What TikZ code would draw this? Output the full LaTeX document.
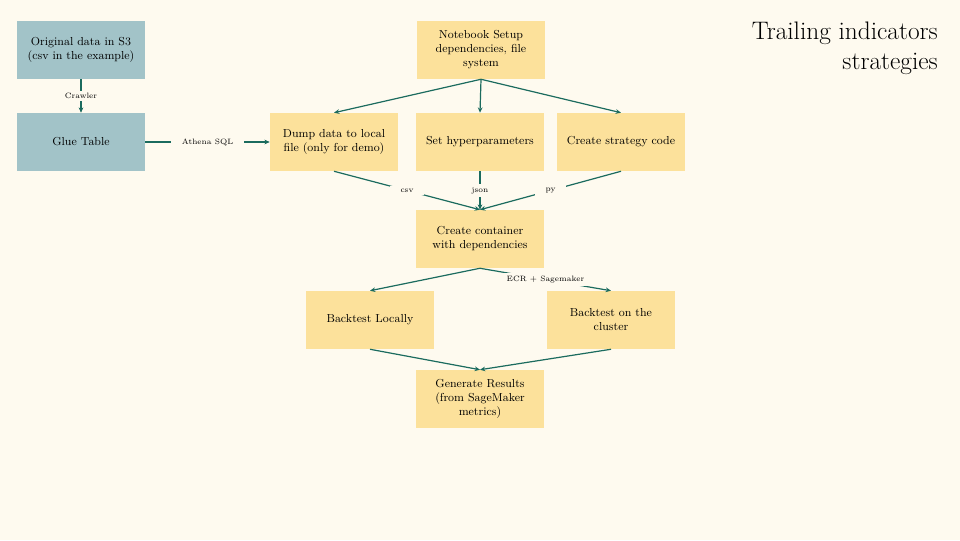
\documentclass[tikz,border=0pt]{standalone}
\usetikzlibrary{arrows.meta}
\definecolor{paper}{HTML}{FEFAEF}
\definecolor{awsblue}{HTML}{A2C3C8}
\definecolor{nbyellow}{HTML}{FCE19B}
\definecolor{flowteal}{HTML}{1B6B5E}
\tikzset{
  box/.style={minimum width=96pt, minimum height=43.5pt, align=center,
    inner sep=0pt, font=\fontsize{8.7}{10.5}\selectfont},
  awsbox/.style={box, fill=awsblue},
  nbbox/.style={box, fill=nbyellow},
  flow/.style={draw=flowteal, line width=0.9pt, -{Stealth[length=4pt,width=3.5pt]}},
  edgelabel/.style={fill=paper, inner xsep=8pt, inner ysep=2pt,
    font=\fontsize{5.8}{7}\selectfont}
}
\begin{document}
\begin{tikzpicture}[x=0.75pt, y=0.75pt]
        \fill[paper] (0, 0) rectangle (960, 540);
        \useasboundingbox (0, 0) rectangle (960, 540);
        \node [awsbox] (orig) at (81, 490) {Original data in S3\\(csv in the example)};
        \node [awsbox] (glue) at (81, 398) {Glue Table};
        \node [nbbox] (setup) at (481, 490) {Notebook Setup\\dependencies, file\\system};
        \node [nbbox] (dump) at (334, 398) {Dump data to local\\file (only for demo)};
        \node [nbbox] (hyper) at (480, 398) {Set hyperparameters};
        \node [nbbox] (strat) at (621, 398) {Create strategy code};
        \node [nbbox] (cont) at (480, 301) {Create container\\with dependencies};
        \node [nbbox] (local) at (370, 220) {Backtest Locally};
        \node [nbbox] (cluster) at (611, 220) {Backtest on the\\cluster};
        \node [nbbox] (results) at (480, 141) {Generate Results\\(from SageMaker\\metrics)};
        \node [anchor=north east, align=right, inner sep=0pt, font=\fontsize{19}{22}\selectfont] (title)
          at (938, 518) {Trailing indicators\\strategies};
        \draw [flow] (orig) -- node [edgelabel] {Crawler} (glue);
        \draw [flow] (glue) -- node [edgelabel] {Athena SQL} (dump);
        \draw [flow] (setup.south) -- (dump.north);
        \draw [flow] (setup.south) -- (hyper.north);
        \draw [flow] (setup.south) -- (strat.north);
        \draw [flow] (dump.south) -- node [edgelabel] {csv} (cont.north);
        \draw [flow] (hyper.south) -- node [edgelabel] {json} (cont.north);
        \draw [flow] (strat.south) -- node [edgelabel] {py} (cont.north);
        \draw [flow] (cont.south) -- (local.north);
        \draw [flow] (cont.south) -- node [edgelabel] {ECR + Sagemaker} (cluster.north);
        \draw [flow] (local.south) -- (results.north);
        \draw [flow] (cluster.south) -- (results.north);
\end{tikzpicture}
\end{document}
